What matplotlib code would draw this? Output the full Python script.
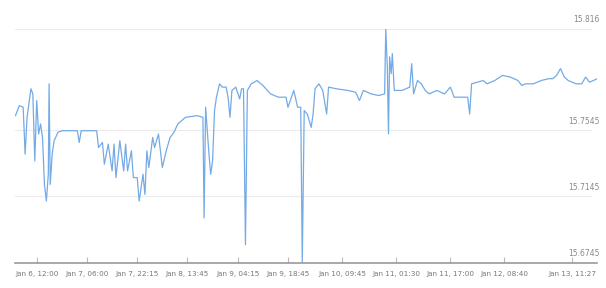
import matplotlib
matplotlib.use("Agg")
import matplotlib.pyplot as plt
import matplotlib.transforms as mtransforms

# time index (irregular trading steps) and price
t_idx = [40, 50, 60, 65, 70, 80, 85, 90, 95, 100, 105, 110, 115, 120, 125, 127, 130, 135, 140, 150,
         160, 200, 205, 210, 250, 255, 265, 270, 280, 290, 295, 300, 310, 320, 325, 330, 340, 345, 355, 360,
         370, 375, 380, 385, 395, 400, 410, 420, 430, 440, 450, 460, 480, 510, 525, 528, 532, 540, 545, 550,
         555, 560, 568, 575, 585, 590, 595, 600, 610, 620, 625, 630, 635, 640, 650, 665, 680, 700, 720, 740,
         745, 760, 770, 778, 782, 787, 795, 805, 810, 815, 825, 835, 845, 850, 870, 900, 920, 930, 940, 960,
         980, 995, 998, 1002, 1005, 1008, 1012, 1015, 1020, 1040, 1060, 1065, 1070, 1080, 1090, 1100, 1110, 1130, 1150, 1165,
         1175, 1190, 1210, 1215, 1220, 1235, 1250, 1260, 1280, 1300, 1320, 1340, 1350, 1360, 1380, 1400, 1420, 1430, 1440, 1450,
         1460, 1470, 1480, 1490, 1505, 1515, 1525, 1535, 1545]
price = [15.7632, 15.7693, 15.7683, 15.7399, 15.7622, 15.7795, 15.7764, 15.7358, 15.7724, 15.7521,
         15.7582, 15.7500, 15.7216, 15.7115, 15.7277, 15.7825, 15.7216, 15.7399, 15.7480, 15.7531,
         15.7541, 15.7541, 15.7470, 15.7541, 15.7541, 15.7439, 15.7470, 15.7338, 15.7460, 15.7297,
         15.7460, 15.7257, 15.7480, 15.7297, 15.7460, 15.7297, 15.7419, 15.7257, 15.7257, 15.7115,
         15.7277, 15.7155, 15.7419, 15.7318, 15.7500, 15.7439, 15.7521, 15.7318, 15.7419, 15.7500,
         15.7531, 15.7582, 15.7622, 15.7632, 15.7622, 15.7013, 15.7683, 15.7419, 15.7277, 15.7358,
         15.7663, 15.7744, 15.7825, 15.7805, 15.7805, 15.7744, 15.7622, 15.7785, 15.7805, 15.7734,
         15.7795, 15.7795, 15.6851, 15.7785, 15.7825, 15.7845, 15.7815, 15.7764, 15.7744, 15.7744,
         15.7683, 15.7785, 15.7683, 15.7683, 15.6745, 15.7663, 15.7642, 15.7561, 15.7642, 15.7795,
         15.7825, 15.7785, 15.7642, 15.7805, 15.7795, 15.7785, 15.7774, 15.7724, 15.7785, 15.7764,
         15.7754, 15.7764, 15.8160, 15.7927, 15.7521, 15.7988, 15.7886, 15.8008, 15.7785, 15.7785,
         15.7805, 15.7947, 15.7764, 15.7845, 15.7825, 15.7785, 15.7764, 15.7785, 15.7764, 15.7805,
         15.7744, 15.7744, 15.7744, 15.7642, 15.7825, 15.7835, 15.7845, 15.7825, 15.7845, 15.7876,
         15.7866, 15.7845, 15.7815, 15.7825, 15.7825, 15.7845, 15.7856, 15.7856, 15.7876, 15.7917,
         15.7866, 15.7845, 15.7835, 15.7825, 15.7825, 15.7866, 15.7835, 15.7845, 15.7856]

tick_pos = [95, 225, 355, 485, 615, 745, 885, 1025, 1165, 1305, 1480]
tick_labels = ["Jan 6, 12:00", "Jan 7, 06:00", "Jan 7, 22:15", "Jan 8, 13:45", "Jan 9, 04:15",
               "Jan 9, 18:45", "Jan 10, 09:45", "Jan 11, 01:30", "Jan 11, 17:00", "Jan 12, 08:40",
               "Jan 13, 11:27"]
y_ticks = [15.6745, 15.7145, 15.7545, 15.816]
y_labels = ["15.6745", "15.7145", "15.7545", "15.816"]

fig = plt.figure(figsize=(6.06, 2.88), dpi=100)
ax = fig.add_axes([0.0255, 0.087, 0.96, 0.814])

ax.plot(t_idx, price, color="#74aae6", linewidth=0.9)

ax.set_xlim(40, 1545)
ax.set_ylim(15.6740, 15.8160)

for s in ["top", "left", "right"]:
    ax.spines[s].set_visible(False)
ax.spines["bottom"].set_color("#9a9a9a")
ax.spines["bottom"].set_linewidth(1.2)

ax.set_yticks([])
for yv in y_ticks[1:]:
    ax.axhline(yv, color="#ececec", linewidth=0.8, xmax=0.99, zorder=0)

# value labels sit a little above their grid lines, at the right edge
offset = mtransforms.ScaledTranslation(0, 3 / 72, fig.dpi_scale_trans)
trans = mtransforms.blended_transform_factory(fig.transFigure, ax.transData) + offset
for yv, lab in zip(y_ticks, y_labels):
    ax.text(0.99, yv, lab, transform=trans, ha="right", va="bottom",
            fontsize=5.5, color="#888888", clip_on=False)

ax.set_xticks(tick_pos)
ax.set_xticklabels(tick_labels, fontsize=5.2, color="#777777")
ax.tick_params(axis="x", direction="in", length=4, color="#bbbbbb", pad=6)

fig.savefig("out.png", dpi=100)
